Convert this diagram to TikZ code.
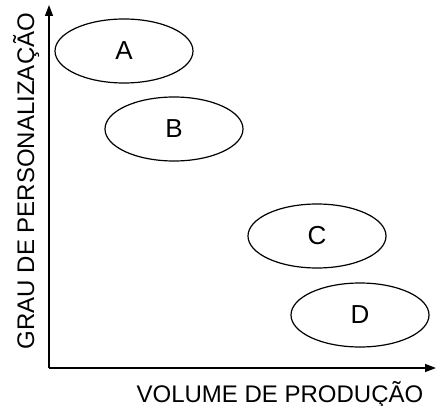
\documentclass[tikz,border=0pt]{standalone}
\usepackage{fontspec}
\setmainfont{Liberation Sans}
\usetikzlibrary{arrows.meta,shapes.geometric}
\begin{document}
\begin{tikzpicture}[x=1pt,y=-1pt,
  blob/.style={draw, ellipse, line width=1.2pt, minimum width=138pt, minimum height=64pt, inner sep=0pt, font=\fontsize{26}{30}\selectfont},
  axis/.style={line width=1.4pt, -{Triangle[length=11pt,width=8pt]}},
  lab/.style={inner sep=0pt, font=\fontsize{24}{28}\selectfont}]
\useasboundingbox (0,0) rectangle (436,406);
\coordinate (O) at (49,368);
\coordinate (ytip) at (49,5);
\coordinate (xtip) at (436,368);
\draw[axis] (O) -- (ytip);
\draw[axis] (O) -- (xtip);
\node[blob] (A) at (124,51) {A};
\node[blob] (B) at (174,129) {B};
\node[blob] (C) at (317,236) {C};
\node[blob] (D) at (360,315) {D};
\node[lab, anchor=base] (xl) at (280,402) {VOLUME DE PRODUÇÃO};
\node[lab, anchor=base, rotate=90] (yl) at (34,181) {GRAU DE PERSONALIZAÇÃO};
\end{tikzpicture}
\end{document}
